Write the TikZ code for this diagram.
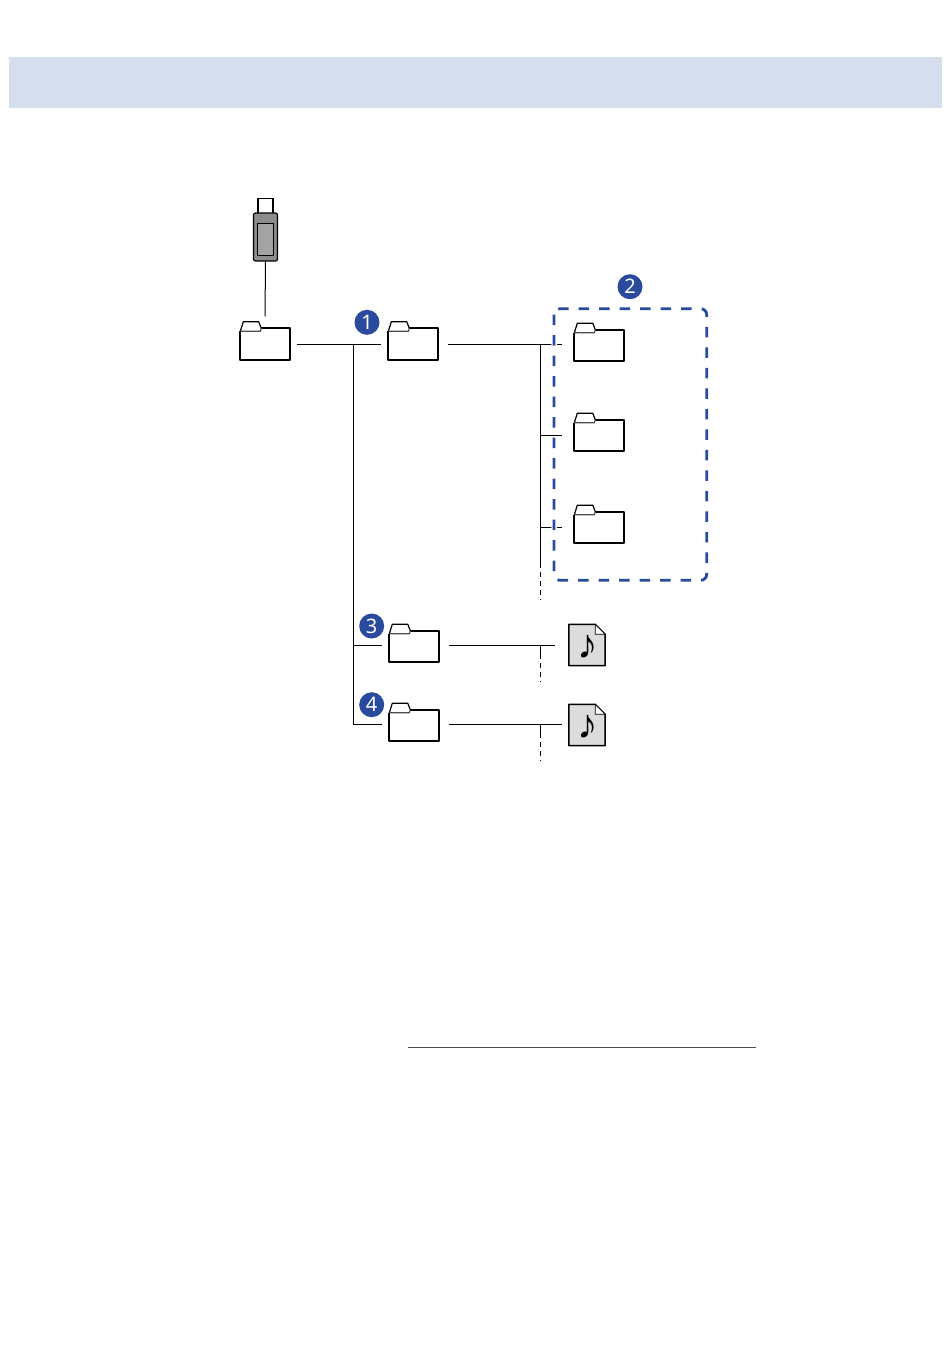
\documentclass[tikz,border=0pt]{standalone}
\usepackage{fontspec}
\setmainfont{Noto Sans}
\newfontfamily\notefont{Liberation Serif}
\definecolor{bannerblue}{HTML}{D5DEEC}
\definecolor{badgeblue}{HTML}{2A4A9E}
\definecolor{usbgrey}{HTML}{8C8C8C}
\definecolor{usbinner}{HTML}{A3A3A3}
\definecolor{filegrey}{HTML}{DCDCDC}
\tikzset{
    folder/.style={minimum width=49pt, minimum height=31pt, inner sep=0pt},
    musicfile/.style={minimum width=36pt, minimum height=41pt, inner sep=0pt},
    badge/.style={circle, fill=badgeblue, text=white, minimum size=25pt, inner sep=0pt, font=\bfseries\fontsize{20}{20}\selectfont},
    conn/.style={line width=1pt, black},
    stub/.style={line width=1pt, black, dash pattern=on 5pt off 4pt},
    iconline/.style={line width=1.9pt, line join=round, black},
    groupdash/.style={rounded corners=6pt, dash pattern=on 10.5pt off 10pt}
}
\begin{document}
\begin{tikzpicture}[x=1pt, y=-1pt]
    \useasboundingbox (0,0) rectangle (950,1369);
    \fill[bannerblue] (9,57) rectangle (942,108);
    \draw[line width=0.7pt, black!70] (408,1047.5) -- (756,1047.5);

    \node[draw=black, line width=1.2pt, fill=white, minimum width=15pt, minimum height=15pt, inner sep=0pt] (plug) at (265.5,206) {};
    \node[draw=black, line width=1.2pt, fill=usbgrey, rounded corners=2pt, minimum width=24pt, minimum height=48pt, inner sep=0pt] (usb) at (265.5,237) {};
    \node[draw=black, line width=1.2pt, fill=usbinner, minimum width=16pt, minimum height=32pt, inner sep=0pt] at ([yshift=-2.4pt]usb.center) {};

    \node[folder] (root) at (265,344) {};
    \node[folder] (main) at (413,344) {};
    \node[folder] (suba) at (599,345.5) {};
    \node[folder] (subb) at (599,435.5) {};
    \node[folder] (subc) at (599,527.5) {};
    \node[folder] (third) at (414,646.5) {};
    \node[folder] (fourth) at (414,725.5) {};
    \node[musicfile] (filea) at (587,645) {};
    \node[musicfile] (fileb) at (587,725) {};

    \foreach \n in {root,main,suba,subb,subc,third,fourth} {
        \draw[iconline] ([xshift=21pt]\n.north west) -- (\n.north east) -- (\n.south east) -- (\n.south west) -- ([yshift=-3pt]\n.north west);
        \draw[iconline, line width=1.2pt] ([yshift=-3pt]\n.north west) -- ([xshift=3pt,yshift=6.5pt]\n.north west) -- ([xshift=18.5pt,yshift=6.5pt]\n.north west) -- ([xshift=21pt]\n.north west);
        \draw[black!70, line width=1.2pt] ([yshift=-3pt]\n.north west) -- ([xshift=20pt,yshift=-3pt]\n.north west) -- ([xshift=21pt]\n.north west);
    }
    \foreach \n in {filea,fileb} {
        \draw[iconline, line width=1.5pt, fill=filegrey] (\n.north west) -- ([xshift=-10pt]\n.north east) -- ([yshift=-10pt]\n.north east) -- (\n.south east) -- (\n.south west) -- cycle;
        \draw[line width=0.8pt, fill=white] ([xshift=-10pt]\n.north east) -- ([xshift=-10pt,yshift=-10pt]\n.north east) -- ([yshift=-10pt]\n.north east) -- cycle;
        \node[inner sep=0pt, font=\notefont\fontsize{41}{41}\selectfont] at ([xshift=1pt,yshift=-2pt]\n.center) {♪};
    }

    \coordinate (rootjoin) at (353.5,344);
    \coordinate (mainjoin) at (540.5,344.5);
    \coordinate (mainsolid) at (540.5,563);
    \coordinate (mainend) at (540.5,600);
    \coordinate (thirdjoin) at (540.5,645.3);
    \coordinate (thirdsolid) at (540.5,654);
    \coordinate (thirdend) at (540.5,682);
    \coordinate (fourthjoin) at (540.5,724.3);
    \coordinate (fourthsolid) at (540.5,733);
    \coordinate (fourthend) at (540.5,761);

    \draw[conn] (usb.south) -- ([yshift=12pt]root.north);
    \draw[conn, shorten <=7pt, shorten >=7pt] (root.east) -- (main.west);
    \draw[conn] (rootjoin) |- ([xshift=-7pt]fourth.west |- fourthjoin);
    \draw[conn] (rootjoin |- thirdjoin) -- ([xshift=-7pt]third.west |- thirdjoin);
    \draw[conn, shorten <=10pt, shorten >=12pt] (main.east |- mainjoin) -- (suba.west |- mainjoin);
    \draw[conn] (mainjoin) -- (mainsolid);
    \draw[stub] (mainsolid) -- (mainend);
    \draw[conn, shorten >=12pt] (mainjoin |- subb.west) -- (subb.west);
    \draw[conn, shorten >=12pt] (mainjoin |- subc.west) -- (subc.west);
    \draw[conn, shorten <=10pt, shorten >=14pt] (third.east |- thirdjoin) -- (filea.west |- thirdjoin);
    \draw[conn] (thirdjoin) -- (thirdsolid);
    \draw[stub] (thirdsolid) -- (thirdend);
    \draw[conn, shorten <=10pt, shorten >=7pt] (fourth.east |- fourthjoin) -- (fileb.west |- fourthjoin);
    \draw[conn] (fourthjoin) -- (fourthsolid);
    \draw[stub] (fourthsolid) -- (fourthend);

    \draw[groupdash, white, line width=5.5pt] (554,308.7) rectangle (706.7,580.3);
    \draw[groupdash, badgeblue, line width=2.8pt] (554,308.7) rectangle (706.7,580.3);

    \node[badge] (numa) at (367,322.3) {1};
    \node[badge] (numb) at (630,286.7) {2};
    \node[badge] (numc) at (371.7,626) {3};
    \node[badge] (numd) at (371.7,704.7) {4};
\end{tikzpicture}
\end{document}
